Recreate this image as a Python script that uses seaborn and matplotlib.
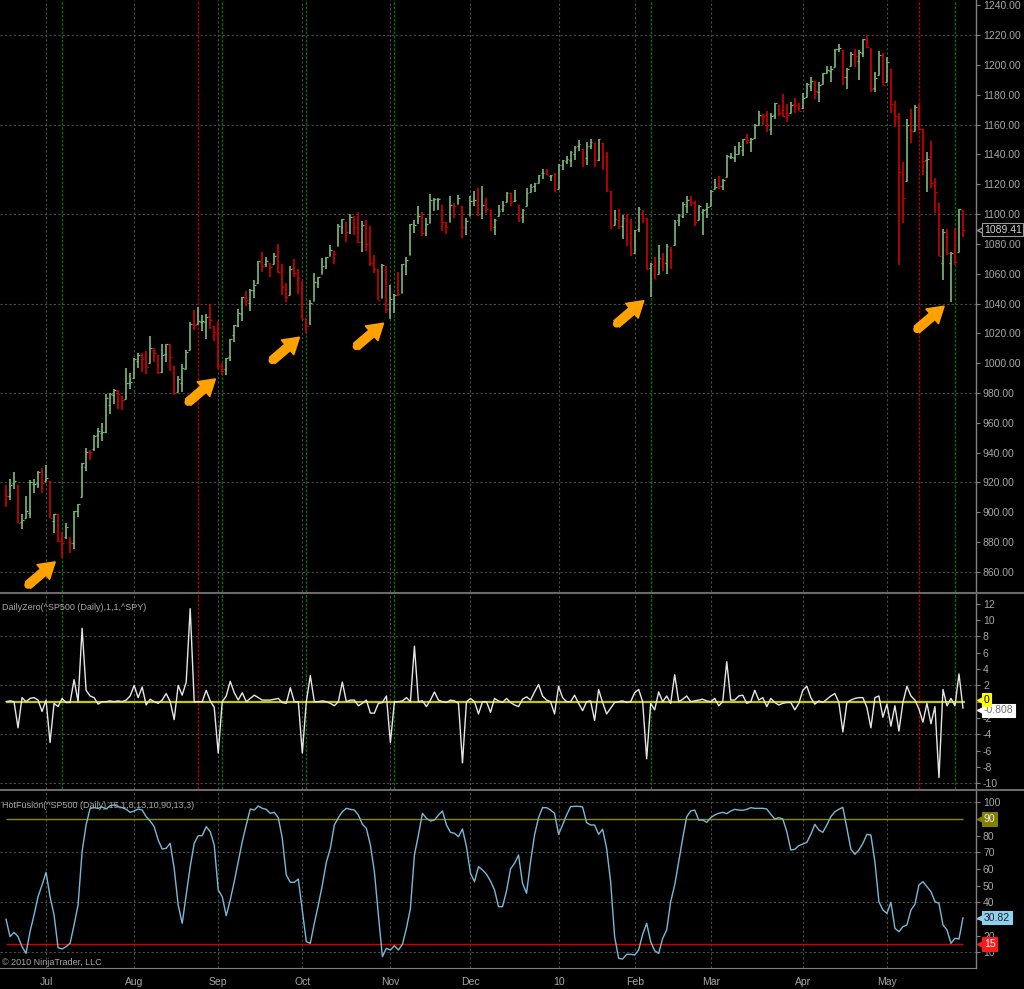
import numpy as np
import pandas as pd
import seaborn as sns
import matplotlib.pyplot as plt
from matplotlib import transforms
from matplotlib.lines import Line2D
from matplotlib.ticker import FormatStrFormatter

# ^SP500 daily bars, one list per month: (open, high, low, close)
jun09 = [
    (911.9, 918.4, 903.8, 910.7), (910.9, 922.0, 907.9, 918.4), (919.9, 927.1, 915.8, 921.2),
    (918.1, 918.1, 893.0, 893.0), (893.5, 898.7, 888.9, 895.1), (896.3, 910.9, 896.3, 900.9),
    (899.5, 921.4, 896.3, 920.3), (918.8, 922.0, 913.0, 918.9), (919.9, 927.9, 916.2, 927.2),
    (927.2, 930.0, 912.9, 919.3),
]
jul09 = [
    (920.8, 931.9, 920.8, 923.3), (921.2, 921.2, 896.4, 896.4), (894.3, 898.7, 886.4, 898.7),
    (898.6, 898.6, 879.9, 881.0), (881.9, 886.8, 869.3, 879.6), (883.5, 892.5, 882.0, 890.0),
    (880.0, 883.6, 872.8, 879.1), (879.6, 901.1, 875.3, 901.1), (900.8, 905.8, 896.5, 905.8),
    (910.2, 933.0, 910.2, 932.7), (930.2, 943.0, 927.5, 940.7), (940.6, 941.9, 934.9, 940.4),
    (942.1, 951.6, 940.9, 951.1), (951.9, 956.5, 943.2, 954.6), (953.4, 959.8, 947.8, 954.1),
    (954.1, 979.4, 953.3, 976.3), (972.2, 979.8, 965.9, 979.3), (978.6, 982.5, 972.3, 982.2),
    (981.5, 982.2, 969.4, 979.6), (977.7, 977.8, 968.7, 975.2), (976.0, 996.7, 976.0, 986.8),
    (986.8, 993.2, 982.8, 987.5),
]
aug09 = [
    (990.2, 1003.6, 990.2, 1002.6), (1001.4, 1007.1, 996.7, 1005.7), (1005.4, 1006.6, 994.3, 1002.7),
    (1004.1, 1008.0, 992.5, 997.1), (999.8, 1018.0, 999.8, 1010.5), (1008.9, 1010.1, 1001.0, 1007.1),
    (1005.8, 1005.8, 992.4, 994.4), (994.0, 1012.8, 993.4, 1005.8), (1005.9, 1013.1, 1000.8, 1012.7),
    (1012.2, 1012.6, 994.6, 1004.1), (998.2, 998.2, 978.5, 979.7), (980.6, 991.2, 980.6, 989.7),
    (986.9, 999.6, 980.6, 996.5), (996.4, 1008.9, 996.4, 1007.4), (1009.1, 1027.6, 1009.1, 1026.1),
    (1026.6, 1035.8, 1022.5, 1025.6), (1026.6, 1037.8, 1026.2, 1028.0), (1027.4, 1032.5, 1021.6, 1028.1),
    (1027.8, 1033.3, 1016.2, 1031.0), (1031.6, 1039.5, 1023.1, 1028.9), (1025.2, 1025.2, 1014.6, 1020.6),
]
sep09 = [
    (1019.5, 1028.5, 996.3, 998.0), (996.1, 1000.3, 992.0, 994.8), (996.1, 1003.4, 992.3, 1003.2),
    (1003.8, 1016.5, 1001.7, 1016.4), (1018.7, 1025.4, 1014.3, 1025.4), (1025.0, 1036.3, 1024.0, 1033.4),
    (1033.0, 1044.1, 1028.0, 1044.1), (1043.9, 1048.2, 1038.4, 1042.7), (1040.2, 1049.7, 1035.0, 1049.3),
    (1049.0, 1056.0, 1043.4, 1052.6), (1054.0, 1068.8, 1052.9, 1068.8), (1067.9, 1074.8, 1061.0, 1065.5),
    (1066.6, 1071.5, 1064.3, 1068.3), (1067.1, 1067.3, 1057.5, 1064.7), (1066.4, 1073.8, 1066.4, 1071.7),
    (1072.7, 1080.2, 1060.4, 1060.9), (1062.6, 1066.3, 1045.9, 1050.8), (1049.5, 1053.5, 1041.2, 1044.4),
    (1045.4, 1065.1, 1045.4, 1063.0), (1063.7, 1069.6, 1057.8, 1060.6), (1061.0, 1063.4, 1046.5, 1057.1),
]
oct09 = [
    (1054.9, 1054.9, 1029.4, 1029.9), (1029.7, 1030.6, 1020.0, 1025.2), (1026.9, 1042.6, 1025.9, 1040.5),
    (1042.0, 1060.6, 1042.0, 1054.7), (1053.7, 1058.0, 1050.2, 1057.6), (1060.0, 1070.7, 1060.0, 1065.5),
    (1065.3, 1071.5, 1063.0, 1071.5), (1071.6, 1079.5, 1071.6, 1076.2), (1075.0, 1075.3, 1066.7, 1073.2),
    (1078.7, 1093.2, 1078.7, 1092.0), (1090.4, 1096.6, 1086.4, 1096.6), (1094.7, 1094.7, 1081.5, 1087.7),
    (1088.2, 1100.2, 1086.5, 1097.9), (1098.6, 1098.6, 1086.2, 1091.1), (1090.4, 1101.4, 1080.8, 1081.4),
    (1081.0, 1095.2, 1074.3, 1092.9), (1095.6, 1095.8, 1075.5, 1079.6), (1080.4, 1091.8, 1065.2, 1067.0),
    (1067.5, 1072.5, 1060.6, 1063.4), (1061.5, 1063.3, 1042.2, 1042.6), (1043.7, 1066.8, 1043.7, 1066.1),
    (1065.4, 1065.4, 1033.4, 1036.2),
]
nov09 = [
    (1036.2, 1052.2, 1029.4, 1042.9), (1040.9, 1046.4, 1033.9, 1045.4), (1047.3, 1061.0, 1045.2, 1046.5),
    (1047.3, 1066.7, 1047.3, 1066.6), (1064.9, 1071.5, 1059.3, 1069.3), (1072.3, 1093.2, 1072.3, 1093.1),
    (1092.2, 1096.1, 1087.4, 1093.0), (1096.0, 1105.4, 1093.5, 1098.5), (1098.3, 1101.4, 1085.0, 1087.2),
    (1087.6, 1097.6, 1085.3, 1093.5), (1094.1, 1113.7, 1094.1, 1109.3), (1109.2, 1110.5, 1102.2, 1110.3),
    (1109.4, 1111.1, 1102.7, 1109.8), (1106.4, 1106.4, 1088.4, 1094.9), (1094.7, 1094.7, 1086.8, 1091.4),
    (1094.9, 1112.4, 1094.9, 1106.2), (1105.8, 1107.6, 1097.6, 1105.7), (1106.5, 1112.8, 1106.5, 1110.6),
    (1105.5, 1105.5, 1083.7, 1091.5), (1091.1, 1097.2, 1086.3, 1095.6),
]
dec09 = [
    (1098.9, 1112.3, 1098.9, 1108.9), (1109.0, 1115.6, 1105.3, 1109.2), (1110.6, 1117.3, 1098.7, 1099.9),
    (1100.4, 1119.1, 1096.5, 1106.0), (1105.5, 1110.7, 1100.8, 1103.3), (1103.0, 1103.0, 1088.6, 1091.9),
    (1091.1, 1097.0, 1085.9, 1096.0), (1098.7, 1106.2, 1098.7, 1102.4), (1103.1, 1108.5, 1101.3, 1106.4),
    (1107.8, 1114.8, 1107.8, 1114.1), (1114.1, 1114.1, 1105.4, 1107.9), (1108.6, 1116.2, 1108.0, 1109.2),
    (1106.4, 1106.4, 1095.0, 1096.1), (1097.9, 1103.7, 1093.9, 1102.5), (1105.3, 1117.7, 1105.3, 1114.1),
    (1114.5, 1120.3, 1114.5, 1118.0), (1118.8, 1121.0, 1115.0, 1120.6), (1121.1, 1126.5, 1121.1, 1126.5),
    (1127.5, 1130.4, 1123.5, 1127.8), (1128.6, 1130.4, 1126.1, 1126.2), (1125.5, 1126.4, 1121.9, 1126.4),
    (1126.6, 1127.6, 1114.8, 1115.1),
]
jan10 = [
    (1116.6, 1133.9, 1116.6, 1133.0), (1132.7, 1136.6, 1129.7, 1136.5), (1135.7, 1139.2, 1133.9, 1137.1),
    (1136.3, 1142.5, 1131.3, 1141.7), (1140.5, 1145.4, 1136.2, 1145.0), (1146.0, 1149.7, 1142.0, 1147.0),
    (1143.8, 1143.8, 1131.8, 1136.2), (1137.3, 1148.4, 1133.2, 1145.7), (1145.7, 1150.4, 1143.8, 1148.5),
    (1147.7, 1147.8, 1131.4, 1136.0), (1136.0, 1150.5, 1135.8, 1150.2), (1148.0, 1148.0, 1129.3, 1138.0),
    (1138.7, 1141.6, 1114.8, 1116.5), (1115.5, 1115.5, 1090.2, 1091.8), (1092.4, 1103.0, 1092.4, 1096.8),
    (1095.8, 1103.7, 1089.9, 1092.2), (1091.9, 1099.5, 1083.1, 1097.5), (1096.9, 1100.2, 1078.5, 1084.5),
    (1087.6, 1096.5, 1071.6, 1073.9),
]
feb10 = [
    (1073.9, 1089.4, 1073.9, 1089.2), (1090.1, 1104.7, 1088.0, 1103.3), (1100.7, 1102.7, 1094.0, 1097.3),
    (1097.3, 1097.3, 1062.8, 1063.1), (1064.1, 1067.1, 1044.5, 1066.2), (1065.5, 1071.2, 1056.5, 1056.7),
    (1060.1, 1079.3, 1060.1, 1070.5), (1069.7, 1073.7, 1062.0, 1068.1), (1067.1, 1080.0, 1060.1, 1078.5),
    (1076.0, 1077.8, 1063.0, 1075.5), (1079.1, 1095.7, 1079.1, 1094.9), (1096.1, 1100.0, 1091.9, 1099.5),
    (1099.0, 1108.2, 1097.5, 1106.8), (1105.5, 1112.4, 1100.8, 1109.2), (1110.0, 1112.3, 1105.4, 1108.0),
    (1107.5, 1108.6, 1092.2, 1094.6), (1095.9, 1106.4, 1095.9, 1105.2), (1101.2, 1103.5, 1086.0, 1102.9),
    (1103.1, 1107.2, 1097.6, 1104.5),
]
mar10 = [
    (1105.4, 1116.1, 1105.4, 1115.7), (1117.0, 1123.5, 1116.5, 1118.3), (1119.4, 1125.6, 1116.6, 1118.8),
    (1119.1, 1123.7, 1116.1, 1123.0), (1125.1, 1139.4, 1125.1, 1138.7), (1138.4, 1141.1, 1136.8, 1138.5),
    (1137.6, 1145.4, 1134.9, 1140.5), (1140.2, 1148.3, 1140.1, 1145.6), (1143.0, 1150.2, 1139.0, 1150.2),
    (1151.7, 1153.4, 1147.0, 1150.0), (1148.5, 1151.0, 1141.5, 1150.5), (1150.8, 1160.3, 1150.4, 1159.5),
    (1159.9, 1169.2, 1159.9, 1166.2), (1166.1, 1166.8, 1160.0, 1165.8), (1166.7, 1169.2, 1155.3, 1159.9),
    (1157.3, 1167.8, 1152.9, 1165.8), (1166.5, 1174.7, 1163.8, 1174.2), (1172.7, 1173.0, 1166.0, 1167.7),
    (1170.0, 1180.7, 1165.1, 1165.7), (1167.6, 1173.9, 1161.5, 1166.6), (1167.7, 1174.9, 1167.7, 1173.2),
    (1173.8, 1177.8, 1168.0, 1173.3), (1171.8, 1174.6, 1169.4, 1169.4),
]
apr10 = [
    (1171.2, 1181.4, 1170.7, 1178.1), (1178.7, 1187.7, 1178.7, 1187.4), (1186.0, 1191.8, 1182.8, 1189.4),
    (1188.2, 1189.6, 1177.3, 1182.5), (1181.8, 1188.6, 1175.1, 1186.4), (1187.5, 1194.7, 1187.2, 1194.4),
    (1194.9, 1199.2, 1194.7, 1196.5), (1195.9, 1199.0, 1188.8, 1197.3), (1198.7, 1210.7, 1198.7, 1210.7),
    (1210.8, 1213.9, 1208.5, 1211.7), (1210.2, 1210.2, 1186.8, 1192.1), (1192.1, 1197.9, 1183.7, 1197.5),
    (1199.0, 1208.6, 1199.0, 1207.2), (1207.2, 1211.0, 1198.9, 1205.9), (1202.5, 1210.3, 1190.2, 1208.7),
    (1207.9, 1217.3, 1205.1, 1217.3), (1217.1, 1219.8, 1211.1, 1212.1), (1209.9, 1211.4, 1181.6, 1183.7),
    (1184.6, 1195.0, 1181.8, 1191.4), (1193.3, 1209.4, 1193.3, 1206.8), (1206.8, 1208.0, 1186.3, 1186.7),
]
may10 = [
    (1188.6, 1205.1, 1188.6, 1202.3), (1197.5, 1197.5, 1168.1, 1173.6), (1169.2, 1176.0, 1158.2, 1165.9),
    (1164.4, 1167.6, 1065.8, 1128.2), (1127.0, 1135.1, 1094.2, 1110.9), (1122.3, 1163.9, 1122.3, 1159.7),
    (1156.4, 1170.5, 1147.7, 1155.8), (1155.4, 1172.9, 1155.4, 1171.7), (1170.0, 1173.6, 1156.1, 1157.4),
    (1157.2, 1157.2, 1126.1, 1135.7), (1136.5, 1141.9, 1115.0, 1136.9), (1138.8, 1148.7, 1117.2, 1120.8),
    (1119.6, 1124.3, 1100.7, 1115.1), (1107.3, 1107.3, 1071.6, 1071.6), (1067.3, 1090.2, 1055.9, 1087.7),
    (1084.8, 1090.0, 1072.7, 1073.7), (1067.4, 1074.8, 1040.8, 1074.0), (1075.5, 1090.8, 1065.6, 1068.0),
    (1074.3, 1103.5, 1074.3, 1103.1), (1102.6, 1102.6, 1084.8, 1089.4),
]
months = [jun09, jul09, aug09, sep09, oct09, nov09, dec09, jan10, feb10, mar10, apr10, may10]
month_labels = ['Jul', 'Aug', 'Sep', 'Oct', 'Nov', 'Dec', '10', 'Feb', 'Mar', 'Apr', 'May']

# DailyZero(^SP500 (Daily),1,1,^SPY), one value per bar
daily_zero = [
    0.0, 0.1, 0.0, -3.2, 0.5, 0.0, 0.4, 0.5, 0.2, -1.2, 0.2, -5.0, -0.2, -0.6, 0.4, -0.1, -0.1, 2.7, 0.0, 9.0,
    1.4, 0.7, 0.5, -0.3, 0.0, 0.0, 0.1, 0.0, 0.1, 0.0, 0.2, 0.7, 2.0, 0.5, 1.8, -0.4, 0.3, 0.0, -0.2, 0.2,
    1.0, 0.0, -2.2, 2.0, 0.8, 2.4, 11.4, 0.0, 0.0, 0.0, 1.4, 0.1, -0.7, -6.3, 0.0, 0.7, 2.5, 1.1, 0.2, 1.1,
    0.0, 0.4, 0.8, 0.5, 0.2, 0.2, 0.2, 0.3, 0.4, -0.1, -0.2, 1.7, 0.0, 0.0, -6.3, 0.0, 3.2, 0.0, 0.0, 0.1,
    0.0, -0.2, -0.5, 0.0, 2.4, 0.0, 0.2, 0.2, -0.5, -0.2, 0.2, -1.4, -1.4, -0.2, -0.1, 0.7, -5.0, 0.0, 0.0, 0.1,
    0.5, 0.0, 6.8, 0.0, 0.1, -0.6, 0.2, 1.2, 0.2, 0.0, -0.1, 0.2, 0.1, -0.2, -7.5, 0.0, 0.4, 0.0, -1.5, 0.0,
    0.0, -1.3, 0.4, 0.1, -0.1, 0.4, -0.1, -0.4, -0.6, 0.3, 0.6, 0.2, 1.2, 2.1, 0.7, 0.2, 0.0, -1.5, 1.9, 0.5,
    0.0, 0.0, 0.8, -0.2, -1.1, 0.0, 0.1, -2.3, 1.5, -0.1, -1.5, -0.8, -0.1, 0.0, 0.1, -0.1, 0.0, 1.1, 1.5, 0.0,
    -7.0,
    -0.2, -1.0, 1.2, 0.0, 0.7, -0.2, 3.3, 0.0, 0.3, 0.7, 0.0, 0.1, 0.2, 0.3, 0.1, 0.0, 0.4, -0.5, 0.0, 4.9,
    0.2, 0.2, 0.7, 0.8, -0.2, 0.0, 1.4, 0.2, 0.5, -0.6, 0.4, -0.1, -0.4, -0.2, -0.1, -0.1, -1.0, -0.2, 1.4, 1.9,
    0.5, -0.3, 0.1, -0.1, 0.3, 0.7, 1.0, -0.1, -3.7, -0.1, 0.2, 0.4, 0.5, 0.5, -0.7, -3.2, 0.5, 0.7, -1.9, -0.3,
    -3.0, -0.5, -3.6, -0.1, 1.9, 0.7, 0.2, -0.9, -2.5, -0.2, -2.7, -0.6, -9.3, 1.5, -0.5, 0.4, -0.5, 3.4, -0.808,
]

# HotFusion(^SP500 (Daily),15,1,8,13,10,90,13,3), one value per bar
hot_fusion = [
    30.0, 19.4, 22.0, 19.4, 13.4, 9.4, 22.4, 32.4, 43.4, 50.4, 58.0, 43.4, 32.4, 12.8, 12.0, 13.4, 15.4, 26.4, 38.4, 70.4,
    86.4, 96.4, 96.8, 96.4, 97.2, 96.0, 98.0, 98.4, 97.4, 96.8, 95.8, 94.0, 94.8, 96.0, 95.4, 91.4, 88.8, 85.4, 77.4, 72.0,
    72.4, 75.4, 60.4, 38.4, 27.4, 44.4, 61.4, 75.4, 80.0, 80.0, 85.4, 82.4, 74.4, 47.4, 43.4, 32.0, 41.4, 52.4, 64.4, 76.4,
    86.4, 96.0, 95.4, 97.8, 96.4, 95.8, 93.4, 94.0, 90.8, 78.4, 56.4, 52.0, 52.0, 54.0, 35.4, 16.4, 15.4, 27.4, 38.4, 50.4,
    64.0, 72.4, 86.4, 90.8, 94.4, 96.4, 95.8, 95.4, 92.4, 86.8, 84.4, 74.4, 58.4, 32.4, 7.4, 12.4, 11.4, 14.0, 11.4, 14.8,
    24.4, 36.4, 68.4, 80.4, 93.4, 90.4, 88.8, 89.4, 92.4, 94.8, 86.4, 82.0, 81.4, 79.4, 84.0, 73.4, 57.4, 52.4, 61.4, 59.4,
    56.8, 52.8, 47.4, 37.4, 37.4, 46.8, 60.0, 63.4, 68.4, 51.4, 45.4, 64.4, 80.4, 90.8, 96.8, 96.8, 95.4, 93.4, 80.8, 86.4,
    92.4, 97.4, 97.6, 97.6, 97.2, 87.8, 86.4, 86.4, 80.8, 83.8, 72.4, 52.4, 19.4, 6.4, 6.0, 8.8, 8.8, 8.4, 11.4, 20.8,
    27.4, 16.4, 11.0, 9.4, 18.4, 23.4, 40.4, 50.4, 64.4, 78.4, 91.4, 94.8, 95.4, 89.4, 89.4, 88.0, 90.8, 92.4, 93.4, 94.0,
    93.2, 94.8, 95.8, 95.4, 95.2, 95.8, 96.8, 96.4, 96.4, 96.4, 96.0, 92.8, 90.0, 90.8, 90.0, 82.4, 71.4, 71.8, 74.0, 75.0,
    76.0, 80.8, 86.8, 83.4, 82.0, 86.4, 91.4, 94.4, 95.8, 97.0, 84.4, 72.0, 68.8, 71.4, 75.4, 80.8, 80.4, 64.4, 40.4, 35.4,
    33.4, 40.0, 24.4, 22.4, 25.4, 26.4, 35.4, 38.8, 50.4, 52.4, 49.4, 46.4, 40.4, 39.4, 26.4, 23.4, 15.4, 18.4, 18.0, 30.82,
]

hf_upper = 90
hf_lower = 15
buy_bars = [14, 54, 75, 97, 161, 237]   # green signal lines
sell_bars = [48, 228]                   # red signal lines
arrow_bars = [14, 54, 75, 96, 161, 236]  # lows marked with orange arrows

price_ticks = [860, 880, 900, 920, 940, 960, 980, 1000, 1020, 1040, 1060, 1080, 1100,
               1120, 1140, 1160, 1180, 1200, 1220, 1240]
price_grid = [860, 920, 980, 1040, 1100, 1160, 1220]
dz_ticks = [-10, -8, -6, -4, -2, 0, 2, 4, 6, 8, 10, 12]
dz_grid = [-10, -4, 2, 8]
hf_ticks = [10, 20, 30, 40, 50, 60, 70, 80, 90, 100]
hf_grid = [10, 40, 70, 100]

GREEN = '#7cba7c'
RED = '#d00000'
GRID = '#4a4a4a'
LABEL = '#a8a8a8'
AXIS = '#808080'
ORANGE = '#ffa200'

sns.set_style('dark', {'axes.facecolor': 'black', 'figure.facecolor': 'black'})
plt.rcParams['font.family'] = ['Liberation Sans', 'DejaVu Sans']

rows = [r for m in months for r in m]
df = pd.DataFrame(rows, columns=['open', 'high', 'low', 'close'])
df['bar'] = np.arange(len(df))
df['dz'] = daily_zero
df['hf'] = hot_fusion
colors = np.where(df.close >= df.open, GREEN, RED)

month_lens = [len(m) for m in months]
month_starts = list(np.cumsum(month_lens)[:-1])

W, H = 1024, 989
fig = plt.figure(figsize=(W / 100, H / 100), dpi=100, facecolor='black')
aw = 976 / W
ax_p = fig.add_axes([0, 1 - 592 / H, aw, 592 / H])
ax_dz = fig.add_axes([0, 1 - 789 / H, aw, 195 / H])
ax_hf = fig.add_axes([0, 1 - 968 / H, aw, 177 / H])

xlim = (-1.5, 242.25)
for ax in (ax_p, ax_dz, ax_hf):
    ax.set_facecolor('black')
    ax.set_xlim(*xlim)
    for s in ('top', 'left', 'bottom'):
        ax.spines[s].set_visible(False)
    ax.spines['right'].set_color(AXIS)
    ax.spines['right'].set_linewidth(1.0)
    ax.tick_params(axis='y', which='both', left=False, right=True, labelleft=False, labelright=True,
                   length=3, width=0.8, color=AXIS, labelcolor=LABEL, labelsize=7.5, pad=2)
    ax.tick_params(axis='x', bottom=False, labelbottom=False)
    ax.grid(False)
    for m in month_starts:
        ax.axvline(m, color=GRID, lw=0.8, ls=(0, (2, 2)), zorder=0)

# price panel
ax_p.set_ylim(846.5, 1243.6)
ax_p.set_yticks(price_ticks)
ax_p.yaxis.set_major_formatter(FormatStrFormatter('%.2f'))
for g in price_grid:
    ax_p.axhline(g, color=GRID, lw=0.8, ls=(0, (2, 2)), zorder=0)
for b in buy_bars:
    ax_p.axvline(b, color='#0c6a0c', lw=1, ls=(0, (2, 1)), zorder=1)
    ax_dz.axvline(b, color='#0c6a0c', lw=1, ls=(0, (2, 1)), zorder=1)
for b in sell_bars:
    ax_p.axvline(b, color='#b00000', lw=1, ls=(0, (2, 1)), zorder=1)
    ax_dz.axvline(b, color='#b00000', lw=1, ls=(0, (2, 1)), zorder=1)

ax_p.vlines(df.bar, df.low, df.high, colors=colors, lw=1.2, zorder=3)
ax_p.hlines(df.close, df.bar, df.bar + 0.45, colors=colors, lw=0.9, zorder=3)
ax_p.hlines(df.open, df.bar - 0.45, df.bar, colors=colors, lw=0.9, zorder=3)

# orange arrows pointing at the swing lows
for b in arrow_bars:
    head = transforms.offset_copy(ax_p.transData, fig=fig, x=-7, y=-4, units='dots')
    ax_p.annotate('', xy=(b, df.low[b]), xycoords=head, xytext=(-27, -23), textcoords='offset pixels',
                  arrowprops=dict(arrowstyle='-', lw=5.5, color=ORANGE, capstyle='round',
                                  shrinkA=0, shrinkB=9), zorder=5)
    ax_p.annotate('', xy=(b, df.low[b]), xycoords=head, xytext=(-27, -23), textcoords='offset pixels',
                  arrowprops=dict(arrowstyle='simple,head_length=0.85,head_width=1.05,tail_width=0.45',
                                  mutation_scale=13, lw=1.2, fc=ORANGE, ec=ORANGE, joinstyle='round',
                                  shrinkA=0, shrinkB=0), zorder=5)

# DailyZero panel
ax_dz.set_ylim(-10.7, 13.2)
ax_dz.set_yticks(dz_ticks)
ax_dz.set_yticklabels(['' if t == 0 else str(t) for t in dz_ticks])
for g in dz_grid:
    ax_dz.axhline(g, color=GRID, lw=0.8, ls=(0, (2, 2)), zorder=0)
ax_dz.hlines(0, df.bar.iloc[0], df.bar.iloc[-1] + 0.5, color='#c8c800', lw=1.6, zorder=2)
sns.lineplot(data=df, x='bar', y='dz', ax=ax_dz, color='#e6e6e6', linewidth=1.0, zorder=3)
ax_dz.set_xlabel('')
ax_dz.set_ylabel('')
ax_dz.text(0.002, 0.933, 'DailyZero(^SP500 (Daily),1,1,^SPY)', transform=ax_dz.transAxes,
           color=LABEL, fontsize=6.5, va='center', ha='left')

# HotFusion panel
ax_hf.set_ylim(0.6, 106.8)
ax_hf.set_yticks(hf_ticks)
ax_hf.set_yticklabels(['' if t in (30, 90) else str(t) for t in hf_ticks])
for g in hf_grid:
    ax_hf.axhline(g, color=GRID, lw=0.8, ls=(0, (2, 2)), zorder=0)
ax_hf.hlines(hf_upper, df.bar.iloc[0], df.bar.iloc[-1], color='#8c8c00', lw=1.0, zorder=2)
ax_hf.hlines(hf_lower, df.bar.iloc[0], df.bar.iloc[-1], color='#d00000', lw=1.0, zorder=2)
sns.lineplot(data=df, x='bar', y='hf', ax=ax_hf, color='#7ab8d8', linewidth=1.0, zorder=3)
ax_hf.set_xlabel('')
ax_hf.set_ylabel('')
ax_hf.text(0.002, 0.917, 'HotFusion(^SP500 (Daily),15,1,8,13,10,90,13,3)', transform=ax_hf.transAxes,
           color=LABEL, fontsize=6.5, va='center', ha='left')
ax_hf.text(0.002, 0.03, '\u00a9 2010 NinjaTrader, LLC', transform=ax_hf.transAxes,
           color=LABEL, fontsize=6.5, va='center', ha='left')
ax_hf.spines['bottom'].set_visible(True)
ax_hf.spines['bottom'].set_color(AXIS)
ax_hf.set_xticks(month_starts)
ax_hf.set_xticklabels(month_labels)
ax_hf.tick_params(axis='x', bottom=False, labelbottom=True, labelcolor=LABEL, labelsize=7.5, pad=3)


def tag(ax, y, text, fc, tc, ec=None, dy=0):
    tr = transforms.blended_transform_factory(ax.transAxes, ax.transData)
    tr = tr + transforms.ScaledTranslation(0, dy / 100, fig.dpi_scale_trans)
    ax.plot([1 + 7 / 976], [y], marker='<', ms=8, mfc=fc, mec=ec or fc, transform=tr,
            clip_on=False, zorder=9)
    ax.text(1 + 8 / 976, y, text, transform=tr, ha='left', va='center', fontsize=7.5, color=tc,
            bbox=dict(boxstyle='square,pad=0.15', fc=fc, ec=ec or fc, lw=0.8), clip_on=False, zorder=10)


tag(ax_p, df.close.iloc[-1], '%.2f' % 1089.41, 'black', '#d0d0d0', '#9a9a9a')
tag(ax_dz, daily_zero[-1], '%.3f' % daily_zero[-1], 'white', '#707070', dy=-2)
tag(ax_dz, 0, '0', '#ffff00', 'black', dy=2)
tag(ax_hf, hf_upper, str(hf_upper), '#808000', '#f0f0f0')
tag(ax_hf, hot_fusion[-1], '%.2f' % hot_fusion[-1], '#8fd0f0', '#202020')
tag(ax_hf, hf_lower, str(hf_lower), '#ff1a1a', 'white')

for y in (593, 790):
    fig.add_artist(Line2D([0, 1], [1 - y / H, 1 - y / H], color='#6a6a6a', lw=1.5))

fig.savefig('out.png', dpi=100, facecolor='black')
